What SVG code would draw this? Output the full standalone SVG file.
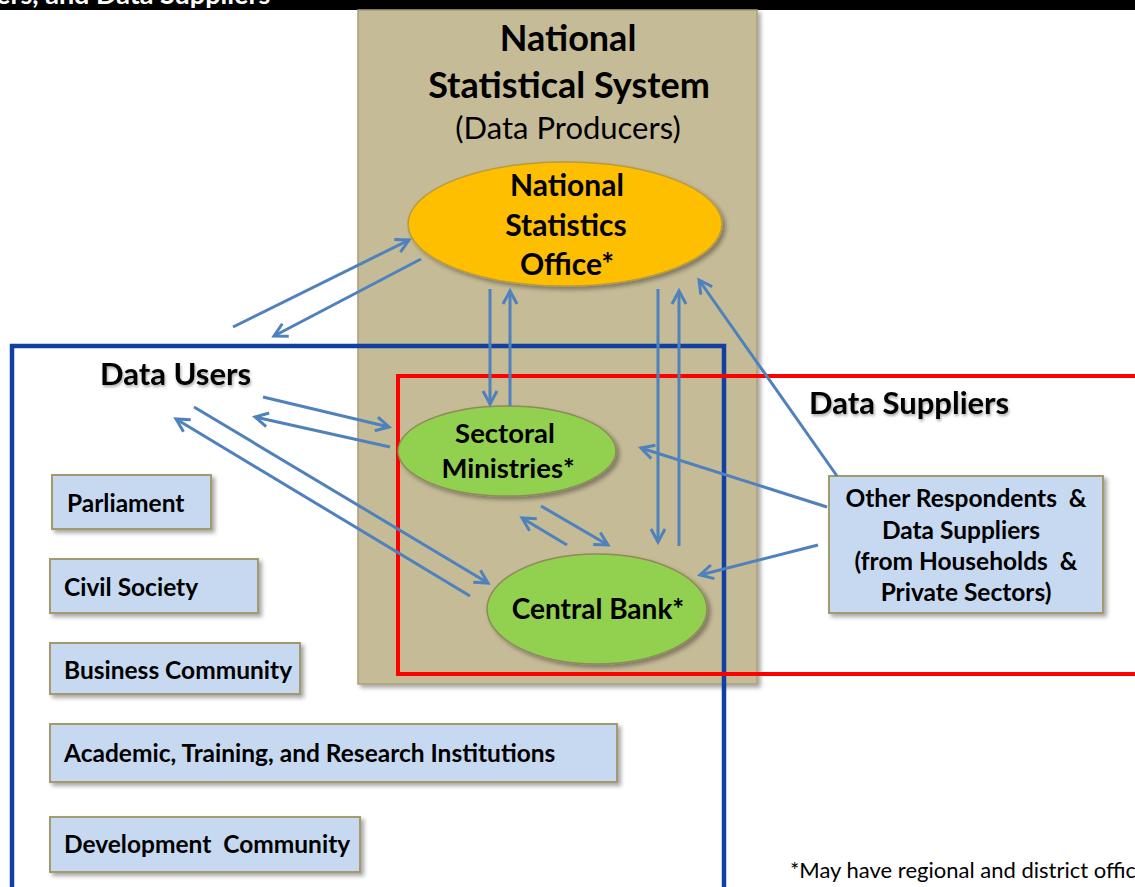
<svg xmlns="http://www.w3.org/2000/svg" width="1135" height="887" viewBox="0 0 1135 887">
<defs>
<style>
.t{font-family:Lato,"Liberation Sans",sans-serif;font-weight:bold;fill:#000;white-space:pre}
.ttl{font-size:36px;text-anchor:middle}
.sub{font-size:31px;text-anchor:middle;font-weight:normal}
.lab{font-size:31px}
.ell{font-size:30px;text-anchor:middle}
.box{fill:#c6d9f1;stroke:#a39a6e;stroke-width:2}
.bt{font-size:24.5px}
.conn line{stroke:#4f81bd;stroke-width:3;fill:none;marker-end:url(#ah)}
</style>
<marker id="ah" viewBox="-16 -10 20 20" refX="0" refY="0" markerWidth="20" markerHeight="20" markerUnits="userSpaceOnUse" orient="auto" overflow="visible">
<path d="M-13,-7 L0,0 L-13,7" fill="none" stroke="#4f81bd" stroke-width="3" stroke-linejoin="miter"/>
</marker>
<filter id="sh" x="-10%" y="-10%" width="130%" height="130%">
<feDropShadow dx="3" dy="3" stdDeviation="2" flood-color="#000" flood-opacity="0.35"/>
</filter>
<filter id="tsh" x="-10%" y="-30%" width="130%" height="160%">
<feDropShadow dx="1" dy="2" stdDeviation="1.5" flood-color="#000" flood-opacity="0.35"/>
</filter>
</defs>
<rect width="1135" height="887" fill="#fff"/>
<g id="header">
<rect x="0" y="0" width="1135" height="10" fill="#000"/>
<text x="-4" y="4" class="t" style="font-size:27px;fill:#fff">ers, and Data Suppliers</text>
</g>
<g id="national-statistical-system">
<rect x="358" y="10" width="399" height="674" fill="#c5bb97" stroke="#a99f78" stroke-width="1.5" filter="url(#sh)"/>
<text class="t ttl" x="568" y="51">National</text>
<text class="t ttl" x="569" y="98">Statistical System</text>
<text class="t sub" x="568" y="139">(Data Producers)</text>
</g>
<g id="data-users-frame">
<rect x="12" y="346" width="712" height="560" fill="none" stroke="#1240a0" stroke-width="4.5"/>
<text class="t lab" x="100" y="385" filter="url(#tsh)">Data Users</text>
</g>
<g id="data-suppliers-frame">
<rect x="398" y="376" width="760" height="298" fill="none" stroke="#ff0000" stroke-width="4"/>
<text class="t lab" x="809" y="414" filter="url(#tsh)">Data Suppliers</text>
</g>
<g id="nso">
<ellipse cx="565" cy="224" rx="157" ry="62" fill="#fdbf00" stroke="#b89a40" stroke-width="1.5" filter="url(#sh)"/>
<text class="t ell" x="567" y="196">National</text>
<text class="t ell" x="566" y="236">Statistics</text>
<text class="t ell" x="567" y="275">Office*</text>
</g>
<g id="sectoral-ministries">
<ellipse cx="507" cy="451" rx="109" ry="45" fill="#92d050" stroke="#8f8a5a" stroke-width="1.5" filter="url(#sh)"/>
<text class="t ell" x="505" y="443" style="font-size:27.5px">Sectoral</text>
<text class="t ell" x="508" y="478" style="font-size:27.5px">Ministries*</text>
</g>
<g id="central-bank">
<ellipse cx="597" cy="609" rx="110" ry="55" fill="#92d050" stroke="#8f8a5a" stroke-width="1.5" filter="url(#sh)"/>
<text class="t ell" x="598" y="619" style="font-size:28px">Central Bank*</text>
</g>
<g id="other-respondents">
<rect class="box" x="829" y="476" width="274" height="137" filter="url(#sh)"/>
<text class="t bt" x="966" y="507" text-anchor="middle">Other Respondents  &amp;</text>
<text class="t bt" x="961" y="539" text-anchor="middle">Data Suppliers</text>
<text class="t bt" x="966" y="570" text-anchor="middle">(from Households  &amp;</text>
<text class="t bt" x="966" y="601" text-anchor="middle">Private Sectors)</text>
</g>
<g id="parliament">
<rect class="box" x="52" y="475" width="159" height="54" filter="url(#sh)"/>
<text class="t bt" x="67" y="512">Parliament</text>
</g>
<g id="civil-society">
<rect class="box" x="50" y="559" width="208" height="54" filter="url(#sh)"/>
<text class="t bt" x="64" y="596">Civil Society</text>
</g>
<g id="business-community">
<rect class="box" x="50" y="643" width="250" height="51" filter="url(#sh)"/>
<text class="t bt" x="64" y="679">Business Community</text>
</g>
<g id="academic">
<rect class="box" x="50" y="724" width="567" height="58" filter="url(#sh)"/>
<text class="t bt" x="64" y="762">Academic, Training, and Research Institutions</text>
</g>
<g id="development-community">
<rect class="box" x="50" y="817" width="310" height="55" filter="url(#sh)"/>
<text class="t bt" x="64" y="853">Development  Community</text>
</g>
<g id="connectors" class="conn">
<line x1="233" y1="327" x2="409" y2="240"/>
<line x1="421" y1="259" x2="274" y2="336"/>
<line x1="490" y1="289" x2="490" y2="404"/>
<line x1="510" y1="406" x2="510" y2="291"/>
<line x1="658" y1="289" x2="658" y2="542"/>
<line x1="679" y1="546" x2="679" y2="291"/>
<line x1="837" y1="476" x2="699" y2="280"/>
<line x1="827" y1="507" x2="641" y2="448"/>
<line x1="818" y1="545" x2="700" y2="575"/>
<line x1="263" y1="397" x2="389" y2="427"/>
<line x1="390" y1="447" x2="255" y2="417"/>
<line x1="194" y1="407" x2="488" y2="583"/>
<line x1="470" y1="596" x2="176" y2="419"/>
<line x1="567" y1="545" x2="522" y2="518"/>
<line x1="541" y1="506" x2="608" y2="545"/>
</g>
<g id="footnote">
<text x="790" y="878" style="font-family:Lato,'Liberation Sans',sans-serif;font-size:22px;fill:#000">*May have regional and district office</text>
</g>
</svg>
